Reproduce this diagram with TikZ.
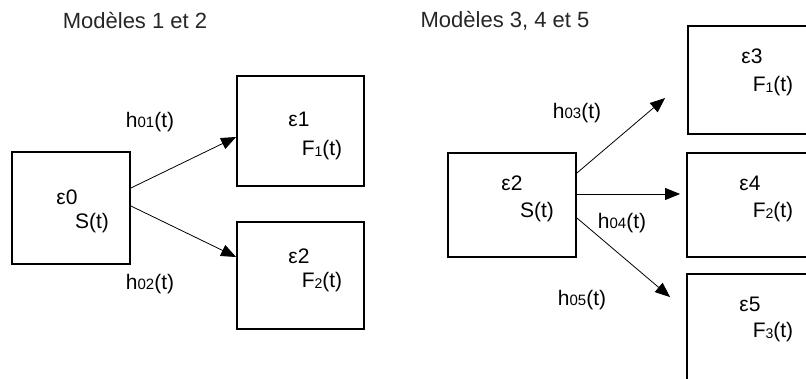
\documentclass[tikz,border=0pt]{standalone}
\usepackage{fontspec}
\setmainfont{Liberation Sans}
\usetikzlibrary{arrows.meta,calc}
\newcommand\hsub[1]{{\fontsize{15}{15}\selectfont #1}}
\newcommand\fsub[1]{\raisebox{-1.5pt}{\fontsize{14}{14}\selectfont #1}}
\begin{document}
\begin{tikzpicture}[x=1pt,y=-1pt,
  box/.style={draw,line width=1.8pt,inner sep=0pt,rectangle},
  arr/.style={-{Triangle[length=15pt,width=12pt]},line width=0.8pt},
  txt/.style={inner sep=0pt,font=\fontsize{21}{21}\selectfont},
  ttl/.style={inner sep=0pt,font=\fontsize{22}{22}\selectfont,text=black!85}]
\useasboundingbox (0,0) rectangle (806,379);
\clip (0,0) rectangle (806,379);
% titles
\node[ttl] (t1) at (135,21) {Modèles 1 et 2};
\node[ttl] (t2) at (505,21) {Modèles 3, 4 et 5};
% left boxes
\node[box,minimum width=118pt,minimum height=112pt] (e0) at (71,208) {};
\node[box,minimum width=127pt,minimum height=110pt] (e1) at (300.5,131) {};
\node[box,minimum width=127pt,minimum height=107pt] (e2a) at (300.5,275.5) {};
% right boxes
\node[box,minimum width=128pt,minimum height=104pt] (e2b) at (512,205) {};
\node[box,minimum width=142pt,minimum height=108pt] (e3) at (759,80) {};
\node[box,minimum width=143pt,minimum height=104pt] (e4) at (758.5,205) {};
\node[box,minimum width=143pt,minimum height=146pt] (e5) at (758.5,347) {};
% arrows
\draw[arr] ($(e0.east)+(0,-20)$) -- ($(e1.west)+(0,6)$);
\draw[arr] ($(e0.east)+(0,-2)$) -- ($(e2a.west)+(0,-18.5)$);
\draw[arr] ($(e2b.east)+(0,-32)$) -- ($(e3.west)+(-22,18)$);
\draw[arr] ($(e2b.east)+(0,-11)$) -- ($(e4.west)+(-6,-11)$);
\draw[arr] ($(e2b.east)+(0,13)$) -- ($(e5.north west)+(-16,24)$);
% labels left
\node[txt] (l0a) at (67,197) {ε0};
\node[txt] (l0b) at (92,223) {S(t)};
\node[txt] (l1a) at (299,119) {ε1};
\node[txt] (l1b) at (322,150) {F\fsub{1}(t)};
\node[txt] (l2a) at (299,256) {ε2};
\node[txt] (l2b) at (322,282) {F\fsub{2}(t)};
\node[txt] (h01) at (150,122) {h\hsub{01}(t)};
\node[txt] (h02) at (150,284) {h\hsub{02}(t)};
% labels right
\node[txt] (r2a) at (512,183) {ε2};
\node[txt] (r2b) at (537,212) {S(t)};
\node[txt] (h03) at (577,113) {h\hsub{03}(t)};
\node[txt] (h04) at (622,223) {h\hsub{04}(t)};
\node[txt] (h05) at (582,300) {h\hsub{05}(t)};
\node[txt] (r3a) at (752,56) {ε3};
\node[txt] (r3b) at (773,86) {F\fsub{1}(t)};
\node[txt] (r4a) at (750,183) {ε4};
\node[txt] (r4b) at (773,212) {F\fsub{2}(t)};
\node[txt] (r5a) at (750,304) {ε5};
\node[txt] (r5b) at (773,332) {F\fsub{3}(t)};
\end{tikzpicture}
\end{document}
